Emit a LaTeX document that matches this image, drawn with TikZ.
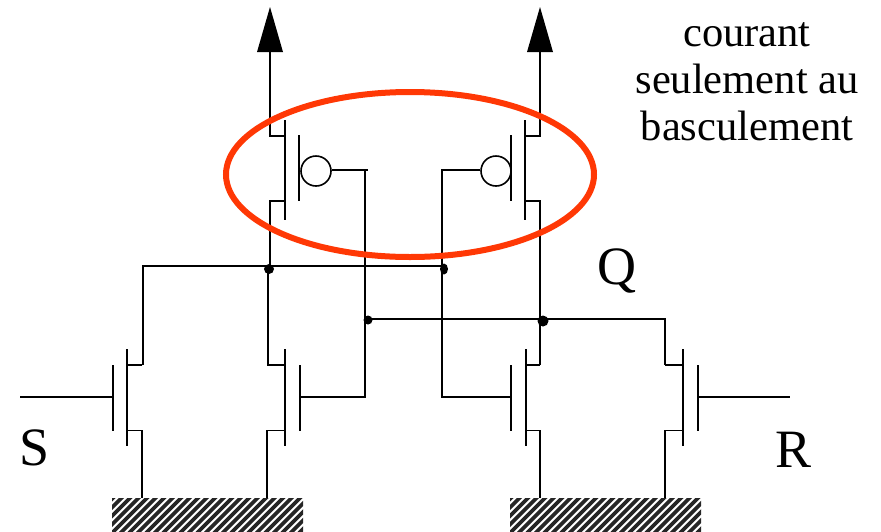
\documentclass[tikz,border=0pt]{standalone}
\usepackage{fontspec}
\usetikzlibrary{shapes.geometric}
\setmainfont{Liberation Serif}
\definecolor{loopred}{RGB}{255,56,5}
\tikzset{
  wire/.style={line width=1.6pt,black},
  plate/.style={line width=2pt,black},
  loopmark/.style={draw=loopred,line width=6pt},
  dotmark/.style={circle,fill=black,inner sep=0pt,minimum size=#1},
  bubble/.style={circle,draw=black,line width=1.6pt,fill=white,inner sep=0pt,minimum size=30pt},
  biglabel/.style={font=\fontsize{54}{54}\selectfont,inner sep=0pt},
  note/.style={font=\fontsize{42.5}{47}\selectfont,align=center,inner sep=0pt},
  tip/.style={fill=black}
}
\begin{document}
\begin{tikzpicture}[x=1pt,y=-1pt]
\useasboundingbox (0,0) rectangle (881,531);
% ground hatching
\foreach \xa/\xb/\nm in {112/303/a,510/701/b}{
  \begin{scope}
    \clip (\xa,498) rectangle (\xb,531);
    \foreach \i in {-5,...,26}{
      \draw[line width=3.6pt,black!85] ({\xa+\i*8.5},533) -- ({\xa+\i*8.5+37},496);
    }
  \end{scope}
}
% named points
\coordinate (tipL) at (270,7);
\coordinate (baseL) at (270,52);
\coordinate (tipR) at (540,7);
\coordinate (baseR) at (540,52);
\coordinate (inS) at (20,397);
\coordinate (inR) at (790,397);
\coordinate (gateL) at (368,170);
\coordinate (gateR) at (442,170);
% arrows
\fill[tip] (tipL) -- (283,52) -- (257,52) -- cycle;
\fill[tip] (tipR) -- (553,52) -- (527,52) -- cycle;
% PMOS left
\draw[wire] (baseL) |- (285,136);
\draw[plate] (285,120) -- (285,220);
\draw[plate] (299,135) -- (299,201);
\draw[wire] (285,201) -| (270,266);
% PMOS right
\draw[wire] (baseR) |- (525,136);
\draw[plate] (525,120) -- (525,220);
\draw[plate] (511,135) -- (511,201);
\draw[wire] (525,201) -| (540,365);
% bubbles
\node[bubble] (bubL) at (316,171) {};
\node[bubble] (bubR) at (496,171) {};
% cross connections
\draw[wire] (bubL.east |- gateL) -- (gateL);
\draw[wire] (365,170) -- (365,397) -- (300,397);
\draw[wire] (bubR.west |- gateR) -- (gateR) -- (442,397) -- (511,397);
% junctions
\node[dotmark=10pt] (j1) at (269,269) {};
\node[inner sep=0pt,fill=black,ellipse,minimum width=8pt,minimum height=11pt] (j2) at (444,269) {};
\node[dotmark=9pt] (j3) at (368,320) {};
\node[dotmark=11pt] (j4) at (543,321) {};
\draw[wire] (143,365) -- (143,266) -- (442,266);
\draw[wire] (268,266) -- (268,365);
\draw[wire] (368,319) -- (665,319) -- (665,365);
% NMOS
\foreach \w/\c/\g in {142/127/113,267/285/300,540/526/511,665/683/698}{
  \draw[wire] (\w,365) -- (\c,365);
  \draw[wire] (\c,430.5) -- (\w,430.5) -- (\w,498);
  \draw[plate] (\c,349) -- (\c,446);
  \draw[plate] (\g,365) -- (\g,431);
}
\draw[wire] (inS) -- (113,397);
\draw[wire] (698,397) -- (inR);
% loop
\draw[loopmark] (410,174.5) ellipse [x radius=184,y radius=82.5];
% labels
\node[biglabel] (lS) at (35,448) {S};
\node[biglabel] (lQ) at (617,271) {Q};
\node[biglabel] (lR) at (794,450) {R};
\node[note] (lN) at (747,82) {courant\\seulement au\\basculement};
\end{tikzpicture}
\end{document}
